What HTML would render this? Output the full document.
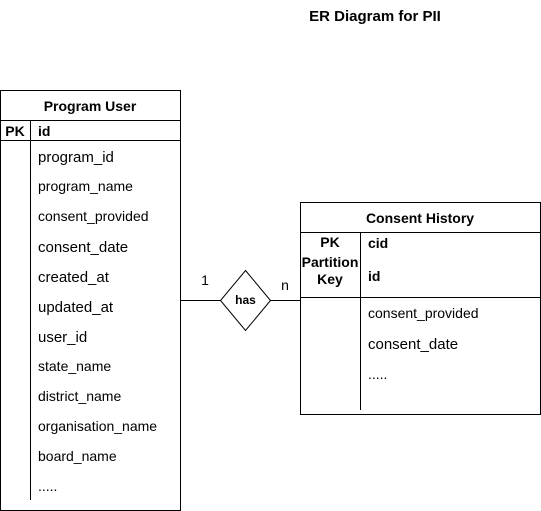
<!DOCTYPE html>
<html><head><meta charset="utf-8"><style>body{margin:0;background:#fff}svg{display:block}text{font-family:"Liberation Sans",sans-serif;fill:#000}</style></head><body>
<svg width="541" height="511" viewBox="0 0 541 511">
<text x="375" y="21" font-size="15" font-weight="bold" text-anchor="middle">ER Diagram for PII</text>
<g fill="none" stroke="#000" stroke-width="1">
<rect x="0.5" y="90.5" width="180" height="420"/>
<line x1="0.5" y1="120.5" x2="180.5" y2="120.5"/>
<line x1="0.5" y1="140.5" x2="180.5" y2="140.5"/>
<line x1="30.5" y1="120.5" x2="30.5" y2="500"/>
<rect x="300.5" y="202.5" width="240" height="212"/>
<line x1="300.5" y1="232.5" x2="540.5" y2="232.5"/>
<line x1="300.5" y1="297.5" x2="540.5" y2="297.5"/>
<line x1="360.5" y1="232.5" x2="360.5" y2="410"/>
<line x1="180.5" y1="300.5" x2="220.5" y2="300.5"/>
<line x1="270.5" y1="300.5" x2="300.5" y2="300.5"/>
<polygon points="245.5,270.5 270.5,300.5 245.5,330.5 220.5,300.5"/>
</g>
<text x="90" y="111" font-size="14" font-weight="bold" text-anchor="middle">Program User</text>
<text x="15" y="136" font-size="14" font-weight="bold" text-anchor="middle">PK</text>
<text x="38" y="136" font-size="14" font-weight="bold">id</text>
<text x="38" y="162" font-size="15">program_id</text>
<text x="38" y="191" font-size="14">program_name</text>
<text x="38" y="221" font-size="14">consent_provided</text>
<text x="38" y="252" font-size="15">consent_date</text>
<text x="38" y="282" font-size="15">created_at</text>
<text x="38" y="312" font-size="15">updated_at</text>
<text x="38" y="342" font-size="15">user_id</text>
<text x="38" y="371" font-size="14">state_name</text>
<text x="38" y="401" font-size="14">district_name</text>
<text x="38" y="431" font-size="14">organisation_name</text>
<text x="38" y="461" font-size="14">board_name</text>
<text x="38" y="491" font-size="14">.....</text>
<text x="420" y="223" font-size="14" font-weight="bold" text-anchor="middle">Consent History</text>
<text x="330" y="247" font-size="14" font-weight="bold" text-anchor="middle">PK</text>
<text x="330" y="267" font-size="14" font-weight="bold" text-anchor="middle">Partition</text>
<text x="330" y="284" font-size="14" font-weight="bold" text-anchor="middle">Key</text>
<text x="368" y="248" font-size="14" font-weight="bold">cid</text>
<text x="368" y="281" font-size="14" font-weight="bold">id</text>
<text x="368" y="318" font-size="14">consent_provided</text>
<text x="368" y="349" font-size="15">consent_date</text>
<text x="368" y="379" font-size="14">.....</text>
<text x="245.5" y="304" font-size="12" font-weight="bold" text-anchor="middle">has</text>
<text x="205" y="285" font-size="14" text-anchor="middle">1</text>
<text x="285" y="290" font-size="14" text-anchor="middle">n</text>
</svg>
</body></html>
